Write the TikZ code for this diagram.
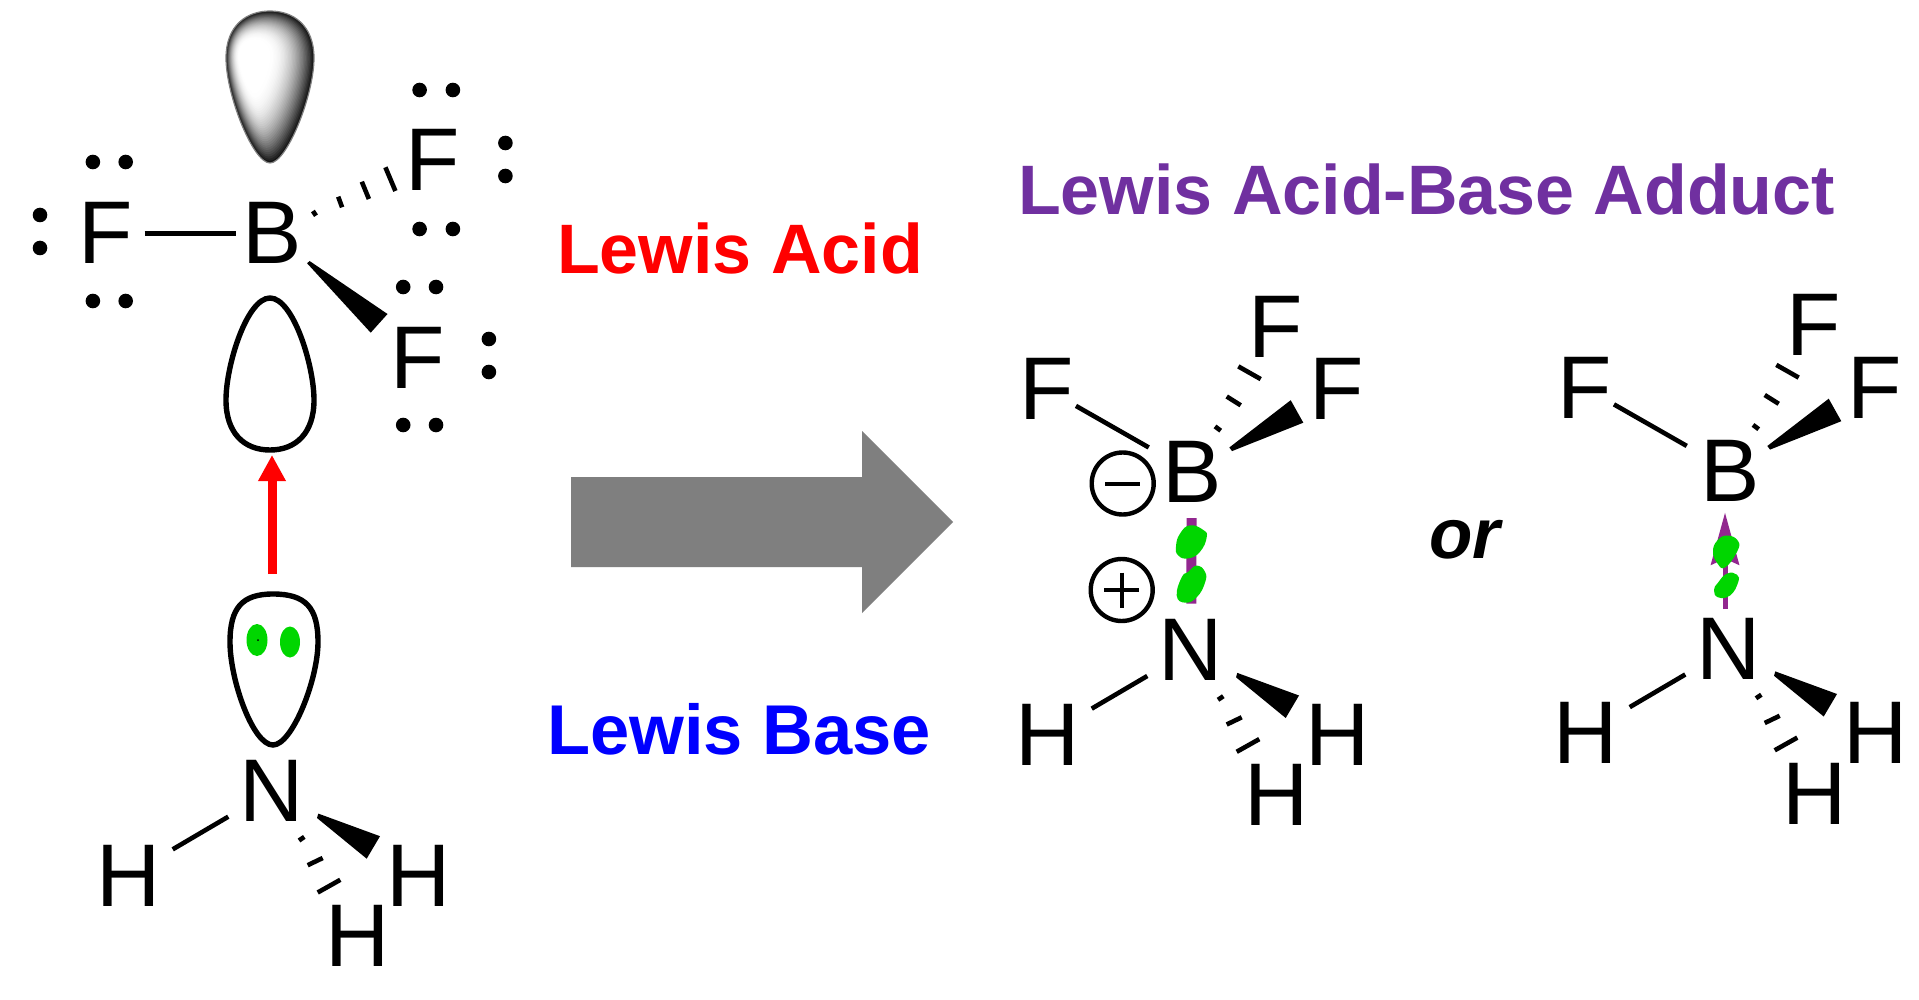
\documentclass[tikz,border=0pt]{standalone}
\usepackage{fontspec}
\setmainfont{Liberation Sans}
\usetikzlibrary{arrows.meta,shapes.geometric}
\definecolor{adductpurple}{HTML}{7030A0}
\definecolor{bondpurple}{HTML}{92278F}
\definecolor{pairgreen}{HTML}{00D600}
\definecolor{arrowgrey}{HTML}{7F7F7F}
% ammonia fragment; #1 = name prefix
\newcommand{\ammoniafrag}[1]{%
  \node[atomtext] (#1N)  at (1191,680.9) {N};
  \node[atomtext] (#1Hl) at (1047.4,765.3) {H};
  \node[atomtext] (#1Hr) at (1337.4,765.3) {H};
  \node[atomtext] (#1Hb) at (1276.4,825.6) {H};
  \draw[bond,shorten <=50.7pt,shorten >=51.4pt] (#1N.center) -- (#1Hl.center);
  \fill (1237.3,672.9) -- (1299,695.5) -- (1285.7,718) -- (1236,677.3) -- cycle;
  \draw[hash] (1218,699.8) -- (1223.3,696.2);
  \draw[hash] (1226.7,724.5) -- (1241.7,717.3);
  \draw[hash] (1236.7,751.8) -- (1259.3,739.1);
}
% boron trifluoride fragment of the adduct; #1 = name prefix
\newcommand{\boronfrag}[1]{%
  \node[atomtext] (#1B)  at (1191.9,502.7) {B};
  \node[atomtext] (#1Fl) at (1046.7,419.8) {F};
  \node[atomtext] (#1Ft) at (1275.7,357.3) {F};
  \node[atomtext] (#1Fr) at (1336.7,419.8) {F};
  \draw[bond,shorten <=49.7pt,shorten >=33.7pt] (#1B.center) -- (#1Fl.center);
  \fill (1229.3,447.5) -- (1290.7,400.2) -- (1303.3,422.7) -- (1232,451.1) -- cycle;
  \draw[hash] (1215,426.4) -- (1220.7,430.7);
  \draw[hash] (1226.7,396.5) -- (1240.7,405.3);
  \draw[hash] (1238.3,366.4) -- (1260.7,379.1);
}
\newcommand{\lobepath}{(24,108) .. controls (7,108) and (-20,40) .. (-20,3)
  .. controls (-20,-30) and (1,-44) .. (24,-44)
  .. controls (47,-44) and (68,-30) .. (68,3)
  .. controls (68,40) and (41,108) .. (24,108) -- cycle}
\tikzset{
  atomtext/.style={font=\fontsize{89}{89}\selectfont,inner sep=0pt,anchor=base},
  title/.style={font=\fontsize{70}{70}\selectfont\bfseries,inner sep=0pt,anchor=base west},
  bond/.style={line width=4.6pt},
  hash/.style={line width=4.6pt},
  orbline/.style={line width=5.4pt,draw=black,fill=white},
  lonedot/.style={fill=black},
  chargering/.style={draw,line width=4.4pt,ellipse,minimum width=62pt,minimum height=62pt,inner sep=0pt},
  chargebar/.style={line width=4pt},
}
\begin{document}
\begin{tikzpicture}[x=1pt,y=-1pt]
\useasboundingbox (0,0) rectangle (1919,1000);
\fill[white] (0,0) rectangle (1919,1000);

% ---- BF3 (left) ----
\begin{scope}[shift={(246,55)}]
  \foreach \n in {100,98,...,30} {
    \pgfmathsetmacro{\dark}{92*pow(max(0,(\n-35)/65),2)}
    \begin{scope}[scale=\n/100]
      \fill[black!\dark] \lobepath;
    \end{scope}
  }
  \draw[black!50,line width=1.2pt] \lobepath;
\end{scope}
\draw[orbline] (270,298) .. controls (247,298) and (226,365) .. (226,400)
  .. controls (226,433) and (244,450) .. (270,450)
  .. controls (296,450) and (314,433) .. (314,400)
  .. controls (314,365) and (293,298) .. (270,298) -- cycle;

\node[atomtext] (lF1) at (105.4,264) {F};
\node[atomtext] (lB)  at (271.9,264) {B};
\node[atomtext] (lF2) at (432.9,191) {F};
\node[atomtext] (lF3) at (417.2,388) {F};
\draw[bond,shorten <=39.2pt,shorten >=36.2pt] (lF1.center) -- (lB.center);
\draw[hash] (312.9,211) -- (316,215.7);
\draw[hash] (338.2,196.7) -- (342.1,207.3);
\draw[hash] (361.8,181.7) -- (368.9,199);
\draw[hash] (385.4,167.3) -- (395.4,191);
\fill (309.6,261) -- (387.5,314) -- (370.7,332.7) -- (307.1,263.3) -- cycle;

\foreach \px/\py in {92.9/162,125.7/162,92.9/301,125.7/301,40/215,40/248,
                     419.6/90,452.9/90,419.6/229,452.9/229,505.4/143,505.4/176,
                     403.2/287,436/287,403.2/425,436/425,488.9/339,488.9/372}
  \fill[lonedot] (\px,\py) circle[radius=7.3pt];

% ---- NH3 (left) ----
\draw[orbline] (273,745) .. controls (253,745) and (230,680) .. (230,642)
  .. controls (230,608) and (242,594) .. (273,594)
  .. controls (306,594) and (318,608) .. (318,642)
  .. controls (318,680) and (292,745) .. (273,745) -- cycle;
\fill[pairgreen] (257,640) ellipse[x radius=10.5pt,y radius=16pt];
\fill[pairgreen] (290,642) ellipse[x radius=10pt,y radius=15.5pt];
\fill (258,640) circle[radius=1pt];
\begin{scope}[shift={(-919,140.7)}]
  \ammoniafrag{l}
\end{scope}

% red donation arrow
\coordinate (redtail) at (272,574);
\coordinate (redtip) at (272,455);
\draw[red,line width=9pt,-{Triangle[length=26pt,width=26pt]}] (redtail) -- (redtip);

% ---- labels and reaction arrow ----
\node[title,text=red] (acid) at (557,273) {Lewis Acid};
\node[title,text=blue,font=\fontsize{70.5}{71}\selectfont\bfseries] (base) at (547,754) {Lewis Base};
\node[title,text=adductpurple] (adduct) at (1018,215) {Lewis Acid-Base Adduct};
\node[title,font=\fontsize{71}{71}\selectfont\bfseries\itshape] (ortext) at (1429,558) {or};
\fill[arrowgrey] (571,477) -- (862,477) -- (862,431) -- (953,522) -- (862,613) -- (862,567) -- (571,567) -- cycle;

% ---- adduct 1 ----
\boronfrag{a}
\ammoniafrag{a}
\node[chargering] (minus) at (1122.7,483.5) {};
\node[chargering] (plus) at (1121.7,590) {};
\draw[chargebar] ([xshift=-17.5pt]minus.center) -- ([xshift=17.5pt]minus.center);
\draw[chargebar] ([xshift=-17.5pt]plus.center) -- ([xshift=17.5pt]plus.center);
\draw[chargebar] ([yshift=17.5pt]plus.center) -- ([yshift=-17.5pt]plus.center);
\draw[bondpurple,line width=10pt,shorten <=46pt,shorten >=46.7pt] (aB.center) -- (aN.center);
\fill[pairgreen] plot[smooth cycle,tension=.8] coordinates {(1180,533.6) (1190,525.3) (1203.3,530) (1206.7,537.3) (1200,551.8) (1188.3,558.4) (1178.3,555.5) (1176,546.4)};
\fill[pairgreen] plot[smooth cycle,tension=.8] coordinates {(1196.7,565.6) (1205,571.8) (1205,582.7) (1196.7,597.3) (1185,602.7) (1176.7,595.5) (1181.7,577.3) (1188.3,571.8)};

% ---- adduct 2 ----
\begin{scope}[shift={(538,-1.5)}]
  \boronfrag{b}
  \ammoniafrag{b}
\end{scope}
\draw[bondpurple,line width=5pt,shorten <=39.7pt,shorten >=42.1pt,-{Stealth[length=52pt,width=28pt,inset=6pt]}]
  ([xshift=-4pt]bN.center) -- ([xshift=-4pt]bN.center |- bB.center);
\fill[pairgreen] plot[smooth cycle,tension=.8] coordinates {(1713,551.8) (1717,540.9) (1727,535.5) (1738,540.9) (1737,551.8) (1725,567.5) (1717,562.7)};
\fill[pairgreen] plot[smooth cycle,tension=.8] coordinates {(1718,582.7) (1727,573.6) (1737,574.7) (1738,582.7) (1730,595.5) (1718,597.3) (1714,590)};
\end{tikzpicture}
\end{document}
